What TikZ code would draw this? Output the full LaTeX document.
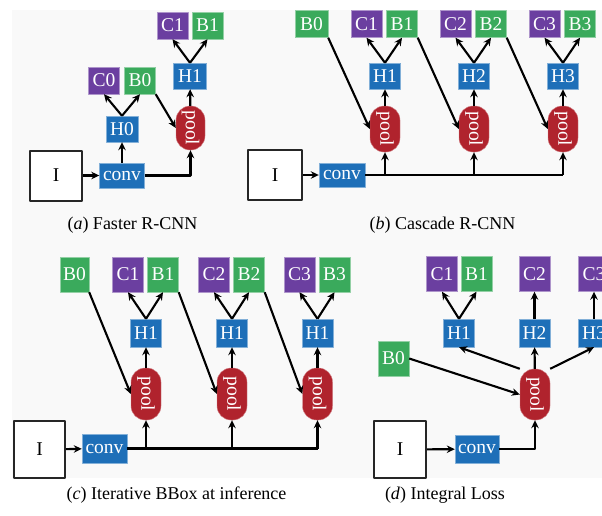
\documentclass[tikz,border=0pt]{standalone}
\usepackage{fontspec}
\setmainfont{Liberation Serif}
\usepackage{graphicx}
\usetikzlibrary{arrows.meta}
\definecolor{cpurple}{RGB}{107,63,160}
\definecolor{cgreen}{RGB}{58,170,92}
\definecolor{cblue}{RGB}{30,111,184}
\definecolor{cred}{RGB}{176,35,45}
\definecolor{cbg}{RGB}{249,249,249}
\begin{document}
\begin{tikzpicture}[x=1pt,y=-1pt,line join=round,>={Stealth[length=8pt,width=7.5pt]},line width=2.1pt]
\tikzset{every node/.style={font=\fontsize{18}{20}\selectfont},
colbox/.style={inner sep=0pt,text=white,fill=#1,draw=#1!55!white,line width=0.4pt,minimum width=31pt,minimum height=27pt,font=\fontsize{19.5}{21}\selectfont},
clsbox/.style={colbox=cpurple},
regbox/.style={colbox=cgreen},
headbox/.style={colbox=cblue},
convbox/.style={colbox=cblue,minimum width=45pt,minimum height=25pt},
poolbox/.style={colbox=cred,minimum width=30pt,minimum height=46pt,rounded corners=14pt},
imgbox/.style={draw=black!85,fill=white,line width=2pt,minimum width=52pt,minimum height=50pt,font=\fontsize{19.5}{21}\selectfont},
tall/.style={minimum height=35pt}}
\clip (0,0) rectangle (602,515);
\fill[cbg] (12,10) rectangle (602,478);
% (a) Faster R-CNN
\node[imgbox] (aI) at (56,175.5) {I};
\node[convbox] (aconv) at (122,175.5) {conv};
\node[headbox,minimum width=32pt,minimum height=26pt] (aH0) at (122,129) {H0};
\node[clsbox] (aC0) at (104,80.5) {C0};
\node[regbox] (aB0) at (140,80.5) {B0};
\node[poolbox,minimum width=29pt,minimum height=44pt] (apool) at (190.5,128) {\rotatebox{-90}{pool}};
\node[headbox,minimum width=33pt,minimum height=26pt] (aH1) at (190,76) {H1};
\node[clsbox] (aC1) at (172.5,25.5) {C1};
\node[regbox] (aB1) at (207.5,25.5) {B1};
\draw[->] (aI) -- (aconv);
\draw[->] (aconv) -- (aH0);
\draw[->] (aH0.north) -- (aC0.south);
\draw[->] (aH0.north) -- (aB0.south);
\draw[->] (aB0.south east) -- (apool.west);
\draw[->] (aconv.east) -| (apool.south);
\draw[->] (apool) -- (aH1);
\draw[->] (aH1.north) -- (aC1.south);
\draw[->] (aH1.north) -- (aB1.south);
\node (acap) at (132.5,225) {(\textit{a}) Faster R-CNN};
% (b) Cascade R-CNN
\node[imgbox,minimum width=54pt] (bI) at (275,175) {I};
\node[convbox,minimum width=46pt,minimum height=24pt] (bconv) at (342,175) {conv};
\node[regbox,minimum width=33pt] (bB0) at (311.5,24) {B0};
\foreach \x [count=\i] in {385,474,563}{
\node[poolbox] (bpool\i) at (\x,129) {\rotatebox{-90}{pool}};
\node[headbox,minimum height=26pt] (bH\i) at (\x,76) {H\i};
\node[clsbox] (bC\i) at (\x-18.5,24) {C\i};
\node[regbox] (bB\i) at (\x+17,24) {B\i};
}
\draw[->] (bI) -- (bconv);
\draw (bconv.east) -- (bpool3.south |- bconv.east);
\foreach \i [count=\j from 0] in {1,2,3}{
\draw[->] (bB\j.south east) -- (bpool\i.west);
\draw[->] (bpool\i.south |- bconv.east) -- (bpool\i.south);
\draw[->] (bpool\i) -- (bH\i);
\draw[->] (bH\i.north) -- (bC\i.south);
\draw[->] (bH\i.north) -- (bB\i.south);
}
\node (bcap) at (442.5,225) {(\textit{b}) Cascade R-CNN};
% (c) Iterative BBox at inference
\node[imgbox,minimum width=51pt,minimum height=57pt] (cI) at (39.5,449.5) {I};
\node[convbox,minimum height=29pt] (cconv) at (104.5,448.5) {conv};
\node[regbox,tall,minimum width=29pt] (cB0) at (74.5,274.5) {B0};
\foreach \x [count=\i] in {146,232,317.5}{
\node[poolbox,minimum height=52pt] (cpool\i) at (\x,394) {\rotatebox{-90}{pool}};
\node[headbox,minimum height=28pt] (cH\i) at (\x,333) {H1};
\node[clsbox,tall] (cC\i) at (\x-18,274.5) {C\i};
\node[regbox,tall] (cB\i) at (\x+17,274.5) {B\i};
}
\draw[->] (cI) -- (cconv);
\draw (cconv.east) -- (cpool3.south |- cconv.east);
\foreach \i [count=\j from 0] in {1,2,3}{
\draw[->] (cB\j.south east) -- (cpool\i.west);
\draw[->] (cpool\i.south |- cconv.east) -- (cpool\i.south);
\draw[->] (cpool\i) -- (cH\i);
\draw[->] (cH\i.north) -- (cC\i.south);
\draw[->] (cH\i.north) -- (cB\i.south);
}
\node (ccap) at (176.5,495) {(\textit{c}) Iterative BBox at inference};
% (d) Integral Loss
\node[imgbox,minimum height=57pt] (dI) at (400,449.5) {I};
\node[convbox,minimum width=44pt,minimum height=28pt] (dconv) at (477,449) {conv};
\node[regbox,tall] (dB0) at (393.5,358.5) {B0};
\node[poolbox,minimum height=51pt] (dpool) at (535,394.5) {\rotatebox{-90}{pool}};
\node[headbox,minimum height=28pt] (dH1) at (459,333) {H1};
\node[headbox,minimum height=28pt] (dH2) at (534.5,333) {H2};
\node[headbox,minimum height=28pt] (dH3) at (594,333) {H3};
\node[clsbox,tall] (dC1) at (442,274) {C1};
\node[regbox,tall] (dB1) at (476.5,274) {B1};
\node[clsbox,tall] (dC2) at (534.5,274) {C2};
\node[clsbox,tall] (dC3) at (594,274) {C3};
\draw[->] (dI) -- (dconv);
\draw[->] (dconv.east) -| (dpool.south);
\draw[->] (dB0.east) -- (dpool.west);
\draw[->] (dpool.north west) -- (dH1.south);
\draw[->] (dpool) -- (dH2);
\draw[->] (dpool.north east) -- (dH3.south);
\draw[->] (dH1.north) -- (dC1.south);
\draw[->] (dH1.north) -- (dB1.south);
\draw[->] (dH2) -- (dC2);
\draw[->] (dH3) -- (dC3);
\node (dcap) at (445,495) {(\textit{d}) Integral Loss};
\end{tikzpicture}
\end{document}
